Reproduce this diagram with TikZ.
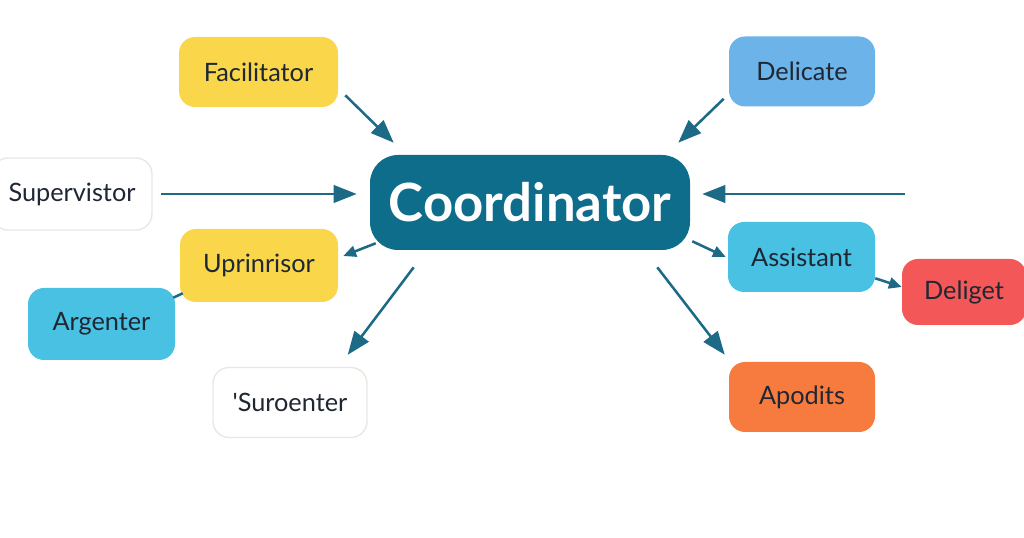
\documentclass[tikz,border=0pt]{standalone}
\usepackage{fontspec}
\setmainfont{Lato}
\usetikzlibrary{arrows.meta}
\definecolor{hubteal}{HTML}{0F6D8C}
\definecolor{arrowteal}{HTML}{1C6A86}
\definecolor{roleyellow}{HTML}{F9D64A}
\definecolor{roleblue}{HTML}{6CB3E9}
\definecolor{rolecyan}{HTML}{48C1E2}
\definecolor{rolered}{HTML}{F35757}
\definecolor{roleorange}{HTML}{F77B3E}
\definecolor{roleedge}{HTML}{E8E8E2}
\definecolor{roletext}{HTML}{1F2733}

\begin{document}
\begin{tikzpicture}[
    role/.style={rounded corners=0.4cm, minimum width=3.65cm, minimum height=1.75cm,
      font=\fontsize{18}{20}\selectfont, text=roletext, inner sep=0pt},
    link/.style={-{Triangle[length=0.58cm, width=0.44cm]}, arrowteal, line width=1.8pt},
    shortlink/.style={-{Triangle[length=0.32cm, width=0.28cm]}, arrowteal, line width=1.8pt}]
  \useasboundingbox (0,0) rectangle (25.6,13.45);
  \node[role, fill=roleyellow, minimum width=3.975cm] (FAC) at (6.4625, 11.65) {Facilitator};
  \node[role, fill=roleblue] (DEL) at (20.05, 11.6625) {Delicate};
  \node[role, fill=white, draw=roleedge, line width=1pt, minimum width=4cm, minimum height=1.8cm]
    (SUP) at (1.8, 8.6) {Supervistor};
  \node[rounded corners=0.7cm, fill=hubteal, text=white, font=\fontsize{37.5}{40}\selectfont\bfseries,
    minimum width=8cm, minimum height=2.375cm] (COO) at (13.25, 8.3875) {Coordinator};
  \node[role, fill=roleyellow, minimum width=3.95cm, minimum height=1.825cm] (UPR) at (6.475, 6.8125) {Uprinrisor};
  \node[role, fill=rolecyan, minimum width=3.675cm, minimum height=1.8cm] (ARG) at (2.5375, 5.35) {Argenter};
  \node[role, fill=white, draw=roleedge, line width=1pt, minimum width=3.85cm]
    (SUR) at (7.25, 3.3875) {\textquotesingle Suroenter};
  \node[role, fill=rolecyan, minimum width=3.675cm] (ASS) at (20.0375, 7.025) {Assistant};
  \node[role, fill=rolered, minimum width=3.1cm, minimum height=1.65cm] (DLG) at (24.1, 6.15) {Deliget};
  \node[role, fill=roleorange] (APO) at (20.05, 3.525) {Apodits};
  \coordinate (RGT) at (22.625, 8.6);
  % into the coordinator
  \draw[link] ([shift={(0.175,0.3)}]FAC.south east) -- ([shift={(0.6,0.3)}]COO.north west);
  \draw[link] ([shift={(-0.125,0.2)}]DEL.south west) -- ([shift={(-0.3,0.3)}]COO.north east);
  \draw[link, shorten <=0.2cm, shorten >=0.325cm] (SUP.east) -- (SUP.east -| COO.west);
  \draw[link, shorten >=0.3cm] (RGT) -- (RGT -| COO.east);
  % out of the coordinator
  \draw[shortlink] ([shift={(0.15,0.175)}]COO.south west) -- ([shift={(0.125,0.2375)}]UPR.east);
  \draw[link] ([shift={(1.1,-0.425)}]COO.south west) -- ([shift={(-0.5,0.3)}]SUR.north east);
  \draw[arrowteal, line width=1.8pt] ([shift={(0.075,0.225)}]UPR.south west) -- ([shift={(-0.05,-0.25)}]ARG.north east);
  \draw[shortlink] ([shift={(0.05,0.225)}]COO.south east) -- ([shift={(-0.05,0)}]ASS.west);
  \draw[shortlink] ([shift={(0,0.35)}]ASS.south east) -- ([shift={(0,0.125)}]DLG.west);
  \draw[link] ([shift={(-0.825,-0.425)}]COO.south east) -- ([shift={(-0.1,0.175)}]APO.north west);
\end{tikzpicture}
\end{document}
